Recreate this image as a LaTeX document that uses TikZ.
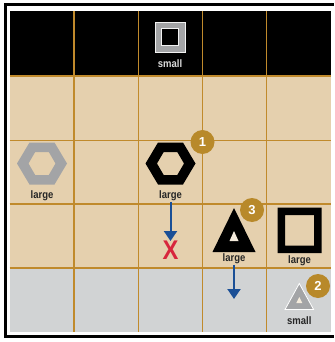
\documentclass[tikz,border=0pt]{standalone}
\usepackage{fontspec}
\setmainfont{Liberation Sans}
\newfontfamily\lblfont[FakeStretch=0.88]{Liberation Sans}
\usetikzlibrary{arrows.meta}
\definecolor{tan}{HTML}{E5D0AE}
\definecolor{lowgray}{HTML}{D1D3D4}
\definecolor{gridgold}{HTML}{C08A2C}
\definecolor{badgegold}{HTML}{B8892A}
\definecolor{flowblue}{HTML}{1A4F96}
\definecolor{xred}{HTML}{D7263D}
\definecolor{piecegray}{HTML}{A3A4A6}
\definecolor{cream}{HTML}{F4EBDC}
\begin{document}
\begin{tikzpicture}[x=1pt,y=-1pt,
  lbl/.style={font=\lblfont\bfseries\fontsize{10.8}{11}\selectfont, inner sep=0.5pt, text=black!85},
  badge/.style={circle, fill=badgegold, minimum size=24pt, inner sep=0pt, text=white, font=\bfseries\fontsize{13}{13}\selectfont},
  flow/.style={draw=flowblue, line width=2pt, -{Triangle[width=13pt,length=10pt]}},
  gridline/.style={draw=gridgold, line width=1.1pt}]
\useasboundingbox (0,0) rectangle (334,342);
\fill[white] (0,0) rectangle (334,342);
\draw[black, line width=3pt] (334,5) -- (5,5) -- (5,336.5) -- (334,336.5);
% cells
\fill[black] (9.5,11) rectangle (331,76);
\fill[tan] (9.5,76) rectangle (331,268);
\fill[lowgray] (9.5,268) rectangle (331,332);
% grid
\foreach \gx in {74,138.3,202.7,266.7} \draw[gridline] (\gx,11) -- (\gx,332);
\foreach \gy in {76,140.5,204,268} \draw[gridline] (9.5,\gy) -- (331,\gy);
% top small square
\begin{scope}[shift={(170,37)}]
  \fill[piecegray, draw=white!90!gray, line width=0.7pt] (-15,-15) rectangle (15,15);
  \fill[black, draw=white!90!gray, line width=0.7pt] (-8.5,-8.5) rectangle (8.5,8.5);
\end{scope}
\node[lbl, text=white!72!gray] (smalltop) at (170,63.5) {small};
% gray hexagon
\begin{scope}[shift={(42,163.5)}]
  \fill[piecegray, even odd rule] (-25,0) -- (-12.5,-21) -- (12.5,-21) -- (25,0) -- (12.5,21) -- (-12.5,21) -- cycle
    (-13.5,0) -- (-6.8,-11.5) -- (6.8,-11.5) -- (13.5,0) -- (6.8,11.5) -- (-6.8,11.5) -- cycle;
\end{scope}
\node[lbl] (largeA) at (42,196) {large};
% black hexagon
\begin{scope}[shift={(170.5,163.5)}]
  \fill[black, even odd rule] (-25,0) -- (-12.5,-21) -- (12.5,-21) -- (25,0) -- (12.5,21) -- (-12.5,21) -- cycle
    (-13.5,0) -- (-6.8,-11.5) -- (6.8,-11.5) -- (13.5,0) -- (6.8,11.5) -- (-6.8,11.5) -- cycle;
\end{scope}
\node[lbl] (largeB) at (170.5,196) {large};
\node[badge] (b1) at (202.5,142) {1};
% red X
\node[inner sep=0pt, text=xred, font=\lblfont\bfseries\fontsize{27}{27}\selectfont] (xmark) at (170.5,250.5) {X};
\draw[flow] (largeB.south) -- (xmark.north);
% black triangle
\fill[black] (234,208) -- (212.5,252) -- (255.5,252) -- cycle;
\fill[cream] (234,231) -- (229.5,241) -- (238.5,241) -- cycle;
\node[lbl] (largeC) at (234,259) {large};
\node[badge] (b3) at (252,210) {3};
\coordinate (arrowend) at (234,299);
\draw[flow] (largeC.south) -- (arrowend);
% black square
\fill[black, even odd rule] (277.5,207.5) rectangle (321.5,253) (285,215) rectangle (314,245.5);
\node[lbl] (largeD) at (299.5,260.5) {large};
% small gray triangle
\fill[piecegray, draw=white, line width=0.8pt] (299.3,283.5) -- (285,309.5) -- (313.6,309.5) -- cycle;
\fill[cream] (299.3,297) -- (296.3,303) -- (302.3,303) -- cycle;
\node[lbl] (smallbot) at (299.3,321) {small};
\node[badge] (b2) at (318,286) {2};
\end{tikzpicture}
\end{document}
